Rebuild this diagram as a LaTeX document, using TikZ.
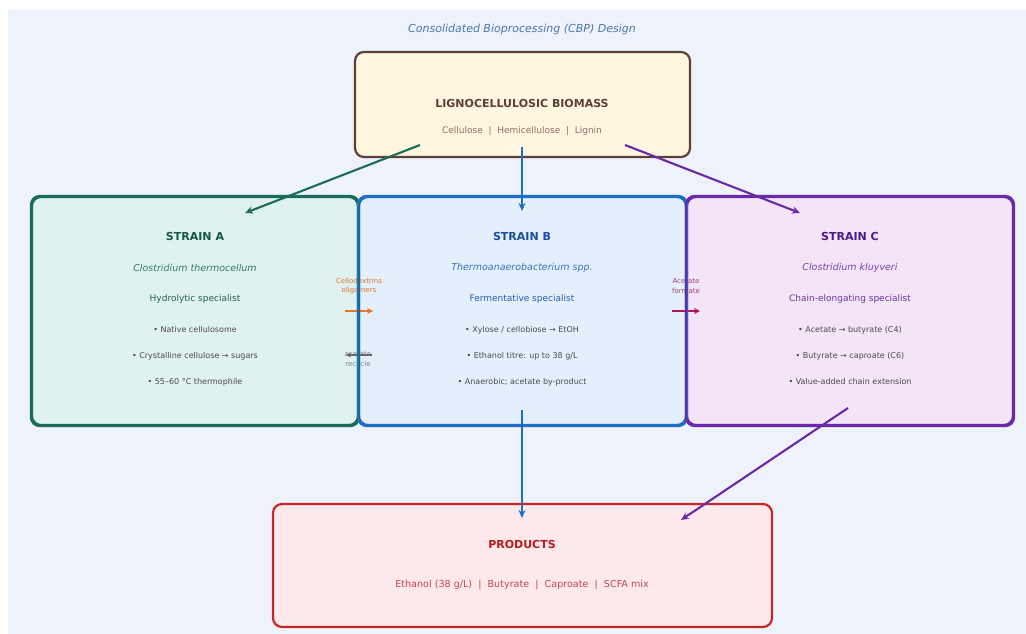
\documentclass[tikz,border=0pt]{standalone}
\usepackage{fontspec}
\setmainfont{DejaVu Sans}
\usetikzlibrary{arrows.meta,calc}

\definecolor{pagebg}{HTML}{EEF2FA}
\definecolor{titleblue}{HTML}{4A78AC}
\definecolor{bioFill}{HTML}{FFF6E0}
\definecolor{bioLine}{HTML}{5D4037}
\definecolor{bioSub}{HTML}{8D6E63}
\definecolor{aFill}{HTML}{E0F2EF}
\definecolor{aLine}{HTML}{1A6B58}
\definecolor{aTitle}{HTML}{14584A}
\definecolor{aItal}{HTML}{2E7D6B}
\definecolor{aRole}{HTML}{1F5F55}
\definecolor{bFill}{HTML}{E3F0FC}
\definecolor{bLine}{HTML}{1E6EC6}
\definecolor{bTitle}{HTML}{1A4FA0}
\definecolor{bItal}{HTML}{3A70C0}
\definecolor{bRole}{HTML}{2A5DB0}
\definecolor{cFill}{HTML}{F3E5F5}
\definecolor{cLine}{HTML}{6B28A8}
\definecolor{cTitle}{HTML}{4A1A8A}
\definecolor{cItal}{HTML}{7B3FB8}
\definecolor{cRole}{HTML}{6A35A8}
\definecolor{pFill}{HTML}{FDE8EB}
\definecolor{pLine}{HTML}{C62828}
\definecolor{pTitle}{HTML}{B71C1C}
\definecolor{pSub}{HTML}{C4474C}
\definecolor{bulletgray}{HTML}{4A4A4A}
\definecolor{orangeflow}{HTML}{E87722}
\definecolor{orangetext}{HTML}{E07028}
\definecolor{magflow}{HTML}{B0185A}
\definecolor{magtext}{HTML}{A3406A}
\definecolor{recgray}{HTML}{808080}

\begin{document}
\begin{tikzpicture}[x=1pt,y=-1pt,
  box/.style={rounded corners=9pt, line width=2.2pt, inner sep=0pt},
  boxtitle/.style={font=\fontsize{11}{13}\selectfont\bfseries},
  species/.style={font=\fontsize{9.5}{11}\selectfont\itshape},
  role/.style={font=\fontsize{9}{11}\selectfont},
  bullet/.style={font=\fontsize{8}{10}\selectfont, text=bulletgray},
  flowlabel/.style={font=\fontsize{7}{9.5}\selectfont, align=center, inner sep=0pt},
  conn/.style={line width=2.1pt, -{Stealth[length=8pt,width=7pt]}},
  smallflow/.style={line width=2.1pt, -{Stealth[length=6pt,width=6pt]}}
]
% page and backdrop
\useasboundingbox (0,0) rectangle (1026,634);
\fill[white] (0,0) rectangle (1026,634);
\fill[pagebg] (8,10) rectangle (1026,634);

\node[font=\fontsize{11}{13}\selectfont\itshape, text=titleblue] (title) at (522,29) {Consolidated Bioprocessing (CBP) Design};

% boxes (fills with borders)
\node[box, draw=bioLine, fill=bioFill, minimum width=335pt, minimum height=105pt] (bio) at (522.5,104.5) {};
\node[box, draw=aLine, fill=aFill, minimum width=326pt, minimum height=228pt] (A) at (195,311) {};
\node[box, draw=bLine, fill=bFill, minimum width=327pt, minimum height=228pt] (B) at (522.5,311) {};
\node[box, draw=cLine, fill=cFill, minimum width=326pt, minimum height=228pt] (C) at (850,311) {};
\node[box, draw=pLine, fill=pFill, minimum width=499pt, minimum height=123pt] (P) at (522.5,565.5) {};

% biomass text
\node[boxtitle, text=bioLine] (bioT) at (522,103) {LIGNOCELLULOSIC BIOMASS};
\node[font=\fontsize{9}{11}\selectfont, text=bioSub] (bioS) at (522,131.5) {Cellulose \ | \ Hemicellulose \ | \ Lignin};

% strain A text
\node[boxtitle, text=aTitle] (aT) at (195,236) {STRAIN A};
\node[species, text=aItal] (aS) at (195,268) {Clostridium thermocellum};
\node[role, text=aRole] (aR) at (195,299) {Hydrolytic specialist};
\node[bullet] (a1) at (195,330) {• Native cellulosome};
\node[bullet] (a2) at (195,356) {• Crystalline cellulose → sugars};
\node[bullet] (a3) at (195,382) {• 55–60 °C thermophile};

% strain B text
\node[boxtitle, text=bTitle] (bT) at (522,236) {STRAIN B};
\node[species, text=bItal] (bS) at (522,268) {Thermoanaerobacterium spp.};
\node[role, text=bRole] (bR) at (522,299) {Fermentative specialist};
\node[bullet] (b1) at (522,330) {• Xylose / cellobiose → EtOH};
\node[bullet] (b2) at (522,356) {• Ethanol titre: up to 38 g/L};
\node[bullet] (b3) at (522,382) {• Anaerobic; acetate by-product};

% strain C text
\node[boxtitle, text=cTitle] (cT) at (850,236) {STRAIN C};
\node[species, text=cItal] (cS) at (850,268) {Clostridium kluyveri};
\node[role, text=cRole] (cR) at (850,299) {Chain-elongating specialist};
\node[bullet] (c1) at (850,330) {• Acetate → butyrate (C4)};
\node[bullet] (c2) at (850,356) {• Butyrate → caproate (C6)};
\node[bullet] (c3) at (850,382) {• Value-added chain extension};

% products text
\node[boxtitle, text=pTitle] (pT) at (522,544) {PRODUCTS};
\node[font=\fontsize{9.6}{12}\selectfont, text=pSub] (pS) at (522,585) {Ethanol (38 g/L) \ | \ Butyrate \ | \ Caproate \ | \ SCFA mix};

% connector end points
\coordinate (bioA) at (420,145);
\coordinate (bioB) at (522,147);
\coordinate (bioC) at (625,145);
\coordinate (inA) at (245,213);
\coordinate (inB) at (522,211);
\coordinate (inC) at (800,213);
\coordinate (outB) at (522,410);
\coordinate (outC) at (848,408);
\coordinate (inPB) at (522,518);
\coordinate (inPC) at (681,520);

\draw[conn, aLine] (bioA) -- (inA);
\draw[conn, bLine] (bioB) -- (inB);
\draw[conn, cLine] (bioC) -- (inC);
\draw[conn, bLine] (outB) -- (inPB);
\draw[conn, cLine] (outC) -- (inPC);

% cross-feeding between strains
\coordinate (abS) at (345,311);
\coordinate (abE) at (373,311);
\coordinate (bcS) at (672,311);
\coordinate (bcE) at (700,311);
\coordinate (recS) at (372,355);
\coordinate (recE) at (346,355);

\node[flowlabel, text=orangetext] (cello) at (359,286) {Cellodextrins\\oligomers};
\draw[smallflow, orangeflow] (abS) -- (abE);
\node[flowlabel, text=magtext] (acf) at (686,286) {Acetate\\formate};
\draw[smallflow, magflow] (bcS) -- (bcE);
\node[flowlabel, text=recgray] (rec) at (358,360) {acetate\\recycle};
\draw[line width=1.3pt, recgray!80!black, -{Stealth[length=5pt,width=5pt]}] (recS) -- (recE);

% box edges on top of the cross-feeding arrows
\draw[aLine, line width=2.2pt, rounded corners=9pt] (A.south west) rectangle (A.north east);
\draw[bLine, line width=2.2pt, rounded corners=9pt] (B.south west) rectangle (B.north east);
\draw[cLine, line width=2.2pt, rounded corners=9pt] (C.south west) rectangle (C.north east);
\end{tikzpicture}
\end{document}
